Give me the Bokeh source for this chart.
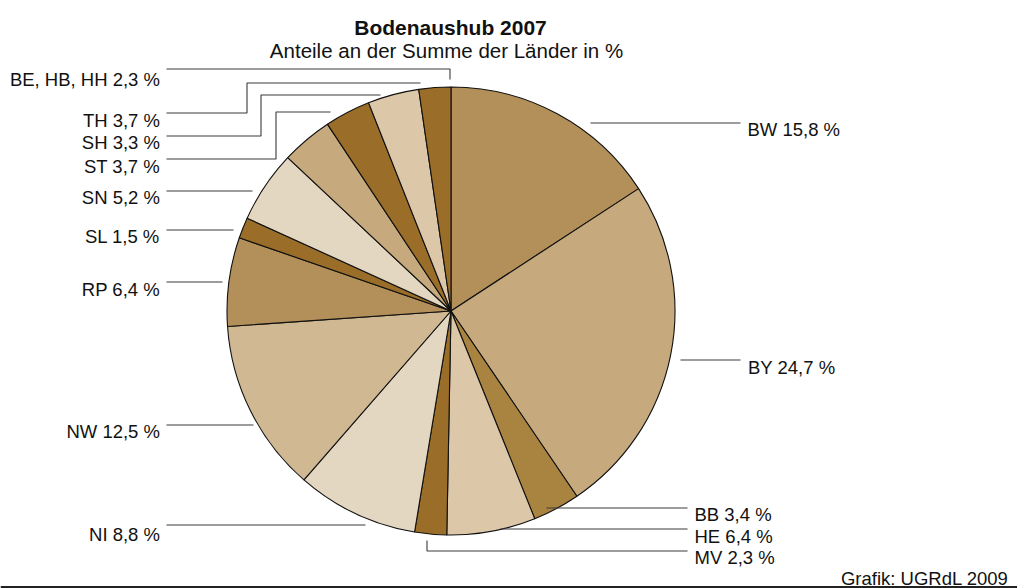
import math
from bokeh.plotting import figure
from bokeh.models import ColumnDataSource, Range1d
from bokeh.core.properties import value
from bokeh.embed import file_html
from bokeh.resources import INLINE

# ---- data ----
laender = ["BW", "BY", "BB", "HE", "MV", "NI", "NW", "RP", "SL", "SN", "ST", "SH", "TH", "BE, HB, HH"]
anteile = [15.8, 24.7, 3.4, 6.4, 2.3, 8.8, 12.5, 6.4, 1.5, 5.2, 3.7, 3.3, 3.7, 2.3]
farben = ["#b38f59", "#c6a97c", "#a98441", "#dcc8a8", "#9a6e28", "#e3d7c1", "#d0b893",
          "#b38f59", "#9a6e28", "#e3d7c1", "#c6a97c", "#9a6e28", "#dcc8a8", "#9a6e28"]
titel = "Bodenaushub 2007"
untertitel = "Anteile an der Summe der Länder in %"
quelle = "Grafik: UGRdL 2009"

# ---- layout (screen pixel coordinates) ----
W, H = 1017, 588


def Y(sy):
    return H - sy


CX, CY, R = 450.5, 310.5, 224

# leader lines and label anchors per state (screen coords)
layout = {
    "BW": ([590, 740], [122.5, 122.5], 747, 128.5, "left"),
    "BY": ([680, 740], [359.5, 359.5], 747.5, 366.5, "left"),
    "BB": ([546, 687], [507.5, 507.5], 694, 513.5, "left"),
    "HE": ([500, 687], [528.5, 528.5], 694, 535.5, "left"),
    "MV": ([426.5, 426.5, 687], [540, 550.5, 550.5], 694, 556.5, "left"),
    "NI": ([365, 166], [524.5, 524.5], 159.5, 533.5, "right"),
    "NW": ([253, 166], [424.5, 424.5], 159.5, 431, "right"),
    "RP": ([222, 166], [281.5, 281.5], 159.5, 288.5, "right"),
    "SL": ([233, 166], [229.5, 229.5], 159.5, 236, "right"),
    "SN": ([252, 166], [190.5, 190.5], 159.5, 197, "right"),
    "ST": ([330, 275.5, 275.5, 166], [111.5, 111.5, 158.5, 158.5], 159.5, 166, "right"),
    "SH": ([380, 260.5, 260.5, 166], [94.5, 94.5, 135.5, 135.5], 159.5, 142, "right"),
    "TH": ([420, 246.5, 246.5, 166], [82.5, 82.5, 112.5, 112.5], 159.5, 119.5, "right"),
    "BE, HB, HH": ([449.5, 449.5, 166], [79, 68.5, 68.5], 159.5, 78.5, "right"),
}

p = figure(width=W, height=H, output_backend="svg", toolbar_location=None,
           x_range=Range1d(0, W), y_range=Range1d(0, H),
           min_border=0, outline_line_color=None)
p.axis.visible = False
p.grid.visible = False
p.background_fill_color = "white"
p.border_fill_color = "white"

# ---- pie ----
total = sum(anteile)
starts, ends = [], []
cum = 0.0
for v in anteile:
    a0 = math.pi / 2 - (cum + v) / total * 2 * math.pi
    a1 = math.pi / 2 - cum / total * 2 * math.pi
    starts.append(a0)
    ends.append(a1)
    cum += v

src = ColumnDataSource(dict(start=starts, end=ends, color=farben,
                            x=[CX] * len(anteile), y=[Y(CY)] * len(anteile)))
p.wedge(x="x", y="y", radius=R, radius_units="data", start_angle="start", end_angle="end",
        fill_color="color", line_color="#111111", line_width=1.1, source=src)

# ---- leader lines & labels ----
font = value("Liberation Sans")
for name, v in zip(laender, anteile):
    xs, ys, tx, ty, al = layout[name]
    p.line(xs, [Y(s) for s in ys], line_color="#3a3a3a", line_width=1.1)
    txt = f"{name} {v:.1f} %".replace(".", ",")
    p.text(x=[tx], y=[Y(ty)], text=[txt], text_font=font, text_font_size="18.5px",
           text_align=al, text_baseline="alphabetic", text_color="#111111")

# ---- titles ----
p.text(x=[450], y=[Y(27)], text=[titel], text_font=font, text_font_size="21px",
       text_font_style="bold", text_align="center", text_baseline="alphabetic",
       text_color="#111111")
p.text(x=[446], y=[Y(50)], text=[untertitel], text_font=font, text_font_size="20.5px",
       text_align="center", text_baseline="alphabetic", text_color="#111111")
p.text(x=[1008], y=[Y(577.5)], text=[quelle], text_font=font, text_font_size="18.5px",
       text_align="right", text_baseline="alphabetic", text_color="#111111")

# bottom rule
p.line([0, W], [Y(586.5), Y(586.5)], line_color="#222222", line_width=2)

open("out.html", "w").write(file_html(p, INLINE))
